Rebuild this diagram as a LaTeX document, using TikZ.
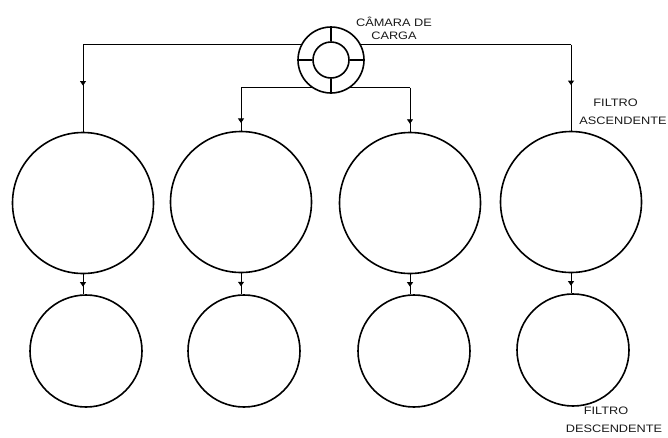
\documentclass[tikz,border=0pt]{standalone}
\usepackage{fontspec}
\newfontfamily\lab[FakeStretch=1.18]{Liberation Sans}
\usetikzlibrary{arrows.meta,decorations.markings}
\tikzset{
  tank/.style={circle,draw,line width=1.6pt,inner sep=0pt,minimum size=#1},
  conn/.style={line width=0.8pt},
  flowmark/.style={postaction={decorate},decoration={markings,
    mark=at position #1 with {\arrow{Triangle[width=6pt,length=4.5pt]}}}},
  lbl/.style={font=\lab\fontsize{10.8}{#1}\selectfont,text=black!90,inner sep=0pt}
}
\begin{document}
\begin{tikzpicture}[x=1pt,y=-1pt]
\useasboundingbox (0,0) rectangle (668,437);
% chamber
\node[tank=66pt] (ch) at (331,60) {};
\node[tank=36pt] (chin) at (331,60) {};
\draw[line width=1.2pt] (chin.north) -- (ch.north) (chin.south) -- (ch.south)
  (chin.east) -- (ch.east) (chin.west) -- (ch.west);
% filters
\node[tank=141pt] (b1) at (83,203) {};
\node[tank=141pt] (b2) at (241,202) {};
\node[tank=141pt] (b3) at (410,203) {};
\node[tank=141pt] (b4) at (571,202) {};
\node[tank=112pt] (s1) at (86,351) {};
\node[tank=112pt] (s2) at (244,351) {};
\node[tank=112pt] (s3) at (414,351) {};
\node[tank=112pt] (s4) at (573,350) {};
% connectors from chamber
\draw[conn] (ch.153) -- (b1.north |- ch.153);
\draw[conn,flowmark=0.47] (b1.north |- ch.153) -- (b1.north);
\draw[conn] (ch.27) -- (b4.north |- ch.27);
\draw[conn,flowmark=0.47] (b4.north |- ch.27) -- (b4.north);
\draw[conn] (ch.235) -- (b2.north |- ch.235);
\draw[conn,flowmark=0.82] (b2.north |- ch.235) -- (b2.north);
\draw[conn] (ch.305) -- (b3.north |- ch.305);
\draw[conn,flowmark=0.82] (b3.north |- ch.305) -- (b3.north);
% connectors down
\draw[conn,flowmark=0.62] (b1.south) -- (b1.south |- s1.north);
\draw[conn,flowmark=0.62] (b2.south) -- (b2.south |- s2.north);
\draw[conn,flowmark=0.62] (b3.south) -- (b3.south |- s3.north);
\draw[conn,flowmark=0.62] (b4.south) -- (b4.south |- s4.north);
% labels
\node[lbl=13,align=center] (tch) at (394,28) {CÂMARA DE\\CARGA};
\node[lbl=18,align=left] (tasc) at (623,112) {\hspace*{14pt}FILTRO\\ASCENDENTE};
\node[lbl=18,align=left] (tdesc) at (614,420) {\hspace*{18pt}FILTRO\\DESCENDENTE};
\end{tikzpicture}
\end{document}
